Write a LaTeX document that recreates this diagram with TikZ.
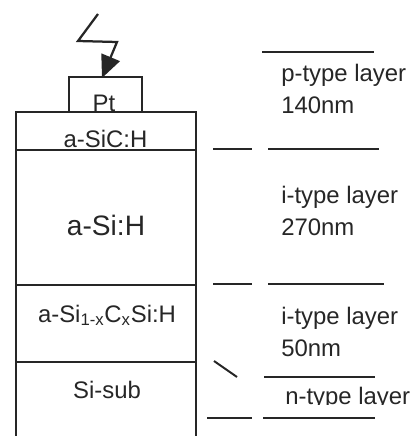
\documentclass[tikz,border=0pt]{standalone}
\usepackage{fontspec}
\setmainfont{Liberation Sans}
\usetikzlibrary{arrows.meta}
\tikzset{
    edgeline/.style={draw=black!85, line width=1.6pt},
    tickline/.style={draw=black!85, line width=1.4pt},
    celltext/.style={anchor=base, inner sep=0pt, text=black!85, font=\fontsize{17}{20}\selectfont},
    sidetext/.style={anchor=north west, inner sep=0pt, text=black!85, align=left, font=\fontsize{17}{22.8}\selectfont}}

\begin{document}
\begin{tikzpicture}[x=0.25mm, y=-0.25mm]
        \useasboundingbox (0,0) rectangle (412,436);

            % layer stack
            \draw[edgeline] (16,436) -- (16,112) -- (196,112) -- (196,436);
            \draw[edgeline] (16,150) -- (196,150);
            \draw[edgeline] (16,285) -- (196,285);
            \draw[edgeline] (16,362) -- (196,362);
            \draw[edgeline] (69,112) -- (69,77) -- (142,77) -- (142,112);

            % light
            \draw[edgeline, -{Triangle[length=16pt, width=14pt]}] (98,14) -- (78,41) -- (117,42) -- (102,78);

            \node[celltext] (pt) at (104,111) {Pt};
            \node[celltext] (sic) at (105.5,147) {a-SiC:H};
            \node[celltext, font=\fontsize{20}{24}\selectfont] (si) at (106,235) {a-Si:H};
            \node[celltext] (graded) at (107,322) {a-Si\textsubscript{1-x}C\textsubscript{x}Si:H};
            \node[celltext] (sub) at (107,398) {Si-sub};

            % ticks
            \draw[tickline] (262,52) -- (374,52);
            \draw[tickline] (213,149) -- (252,149);
            \draw[tickline] (268,149) -- (379,149);
            \draw[tickline] (213,284) -- (252,284);
            \draw[tickline] (268,284) -- (384,284);
            \draw[tickline] (214,361) -- (237,377);
            \draw[tickline] (264,377) -- (375,377);
            \draw[tickline] (207,418) -- (252,418);
            \draw[tickline] (263,418) -- (375,418);

            \node[sidetext] (ptype) at (281,64) {p-type layer\\140nm};
            \node[sidetext] (itypea) at (281,186) {i-type layer\\270nm};
            \node[sidetext] (itypeb) at (281,307) {i-type layer\\50nm};
            \begin{scope}
                \clip (270,380) rectangle (412,404.5);
                \node[sidetext] (ntype) at (285,387) {n-type layer};
            \end{scope}

        \end{tikzpicture}
\end{document}
